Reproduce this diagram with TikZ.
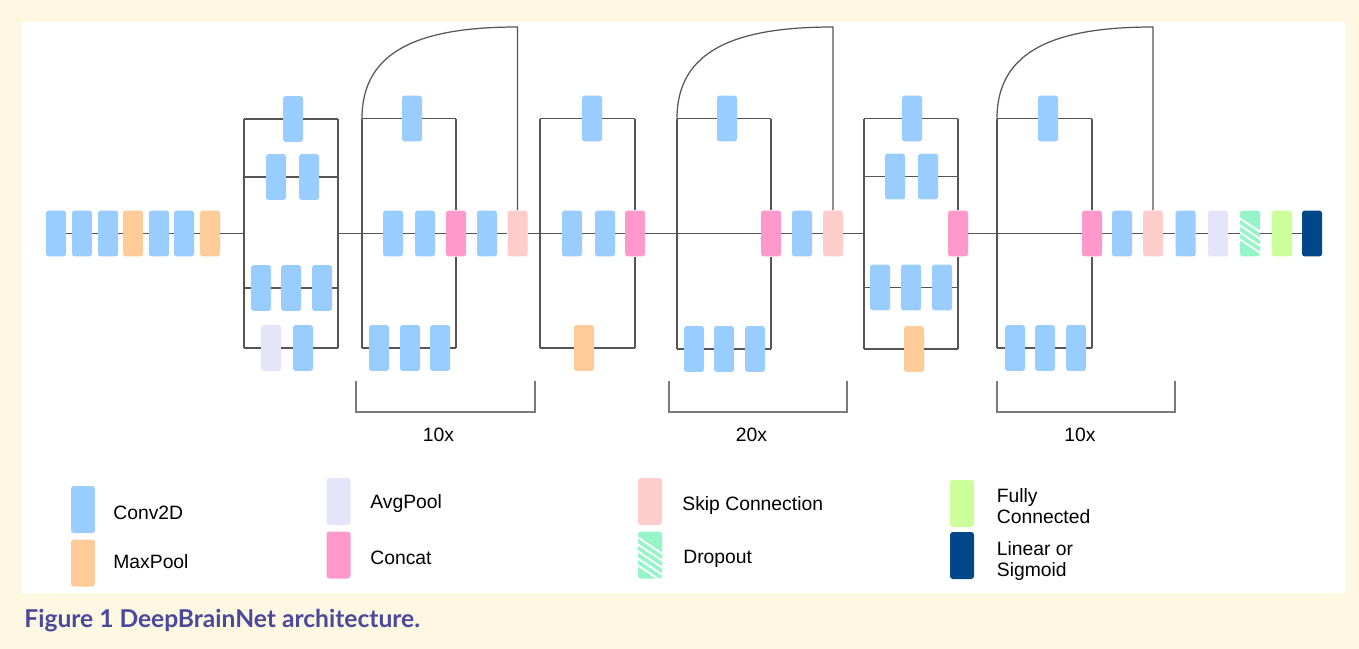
\documentclass[tikz,border=0pt]{standalone}
\usepackage{fontspec}
\setmainfont{Liberation Sans}
\newfontfamily\capfont{Lato}
\usepackage{tikz}
\definecolor{convBlue}{HTML}{99CCFF}
\definecolor{poolOrange}{HTML}{FFCC99}
\definecolor{avgLilac}{HTML}{E5E5FA}
\definecolor{catPink}{HTML}{FF99CC}
\definecolor{skipRose}{HTML}{FFCCCC}
\definecolor{dropMint}{HTML}{96F5C8}
\definecolor{fcGreen}{HTML}{CCFF99}
\definecolor{outNavy}{HTML}{00478A}
\definecolor{wireGray}{HTML}{555555}
\definecolor{braceGray}{HTML}{7A7A7A}
\definecolor{paperCream}{HTML}{FEF7E1}
\definecolor{capBlue}{HTML}{4A4A9C}

\begin{document}
\begin{tikzpicture}[x=0.02cm, y=-0.02cm, font=\fontsize{11}{11.9}\selectfont,
  blk/.style={rounded corners=1.6pt, minimum width=0.4cm, minimum height=0.92cm, inner sep=0pt},
  convbox/.style={blk, fill=convBlue},
  maxbox/.style={blk, fill=poolOrange},
  avgbox/.style={blk, fill=avgLilac},
  catbox/.style={blk, fill=catPink},
  skipbox/.style={blk, fill=skipRose},
  stripes/.style={path picture={\foreach \d in {#1} {\draw[white, line width=1.1pt] (path picture bounding box.north west) ++(-3,\d) -- ++(30,20);}}},
  dropbox/.style={blk, fill=dropMint, stripes={6,13,20,27}},
  fcbox/.style={blk, fill=fcGreen},
  linbox/.style={blk, fill=outNavy},
  keybox/.style={minimum width=0.48cm, minimum height=0.94cm},
  wire/.style={draw=wireGray, line width=0.7pt},
  brace/.style={draw=braceGray, line width=0.8pt},
  lbl/.style={inner sep=0pt, anchor=base west, align=left}]

  % paper and panel
  \fill[paperCream] (0,0) rectangle (1359,649);
  \fill[white] (22,22) rectangle (1345,593);

  % stem
  \foreach \x/\t [count=\i] in {56/convbox,82/convbox,108/convbox,133/maxbox,159/convbox,184/convbox,210/maxbox}
    {\node[\t] (s\i) at (\x,233.5) {};}
  \draw[wire] (s1) -- (s2) -- (s3) -- (s4) -- (s5) -- (s6) -- (s7);

  % inception module, four branches, no concat
  \foreach \y [count=\j] in {119,177,288,348}
    {\coordinate (incA-l\j) at (244,\y); \coordinate (incA-r\j) at (338,\y);}
  \coordinate (incA-in) at (244,233.5);
  \coordinate (incA-out) at (338,233.5);
  \node[convbox] (incA-1a) at (293,119) {};
  \node[convbox] (incA-2a) at (276,177) {};
  \node[convbox] (incA-2b) at (309,177) {};
  \foreach \x [count=\i] in {261,291,322} {\node[convbox] (incA-3\i) at (\x,288) {};}
  \node[avgbox] (incA-4a) at (271,348) {};
  \node[convbox] (incA-4b) at (303,348) {};
  \draw[wire] (incA-l1) -- (incA-l4);
  \draw[wire] (incA-r1) -- (incA-r4);
  \draw[wire] (incA-l1) -- (incA-1a) -- (incA-r1);
  \draw[wire] (incA-l2) -- (incA-2a) -- (incA-2b) -- (incA-r2);
  \draw[wire] (incA-l3) -- (incA-31) -- (incA-32) -- (incA-33) -- (incA-r3);
  \draw[wire] (incA-l4) -- (incA-4a) -- (incA-4b) -- (incA-r4);
  \draw[wire] (s7) -- (incA-in);

  % residual block A (x10)
  \coordinate (resA-l1) at (362,118.5); \coordinate (resA-r1) at (456,118.5);
  \coordinate (resA-l3) at (362,348);   \coordinate (resA-r3) at (456,348);
  \node[convbox] (resA-1a) at (412,118.5) {};
  \node[convbox] (resA-2a) at (393,233.5) {};
  \node[convbox] (resA-2b) at (425,233.5) {};
  \node[catbox] (resA-cat) at (456,233.5) {};
  \foreach \x [count=\i] in {379,410,440} {\node[convbox] (resA-3\i) at (\x,348) {};}
  \node[convbox] (resA-c) at (487,233.5) {};
  \node[skipbox] (resA-sk) at (517.5,233.5) {};
  \coordinate (resA-top) at (517.5,27);
  \draw[wire] (resA-l1) -- (resA-l3);
  \draw[wire] (resA-r1) -- (resA-cat) -- (resA-r3);
  \draw[wire] (resA-l1) -- (resA-1a) -- (resA-r1);
  \draw[wire] (resA-l3) -- (resA-31) -- (resA-32) -- (resA-33) -- (resA-r3);
  \draw[wire] (incA-out) -- (resA-2a) -- (resA-2b) -- (resA-cat) -- (resA-c) -- (resA-sk);
  \draw[wire] (resA-l1) .. controls +(0,-68) and +(-98,0) .. (resA-top) -- (resA-sk);
  \draw[brace] (356,381) -- (356,412) -- (535,412) -- (535,381);
  \node[inner sep=0pt, anchor=base] (resA-n) at (438.5,441) {10x};

  % reduction module A
  \coordinate (redA-l1) at (540,118.5); \coordinate (redA-r1) at (635,118.5);
  \coordinate (redA-l3) at (540,348);   \coordinate (redA-r3) at (635,348);
  \node[convbox] (redA-1a) at (592,118.5) {};
  \node[convbox] (redA-2a) at (572,233.5) {};
  \node[convbox] (redA-2b) at (605,233.5) {};
  \node[catbox] (redA-cat) at (635,233.5) {};
  \node[maxbox] (redA-3a) at (584,348) {};
  \draw[wire] (redA-l1) -- (redA-l3);
  \draw[wire] (redA-r1) -- (redA-cat) -- (redA-r3);
  \draw[wire] (redA-l1) -- (redA-1a) -- (redA-r1);
  \draw[wire] (redA-l3) -- (redA-3a) -- (redA-r3);
  \draw[wire] (resA-sk) -- (redA-2a) -- (redA-2b) -- (redA-cat);

  % residual block B (x20)
  \coordinate (resB-l1) at (677,118.5); \coordinate (resB-r1) at (771,118.5);
  \coordinate (resB-l3) at (677,349);   \coordinate (resB-r3) at (771,349);
  \node[convbox] (resB-1a) at (727,118.5) {};
  \node[catbox] (resB-cat) at (771,233.5) {};
  \foreach \x [count=\i] in {694,724,755} {\node[convbox] (resB-3\i) at (\x,349) {};}
  \node[convbox] (resB-c) at (802,233.5) {};
  \node[skipbox] (resB-sk) at (833,233.5) {};
  \coordinate (resB-top) at (833,27);
  \draw[wire] (resB-l1) -- (resB-l3);
  \draw[wire] (resB-r1) -- (resB-cat) -- (resB-r3);
  \draw[wire] (resB-l1) -- (resB-1a) -- (resB-r1);
  \draw[wire] (resB-l3) -- (resB-31) -- (resB-32) -- (resB-33) -- (resB-r3);
  \draw[wire] (redA-cat) -- (resB-cat) -- (resB-c) -- (resB-sk);
  \draw[wire] (resB-l1) .. controls +(0,-68) and +(-98,0) .. (resB-top) -- (resB-sk);
  \draw[brace] (669,381) -- (669,412) -- (847,412) -- (847,381);
  \node[inner sep=0pt, anchor=base] (resB-n) at (751.5,441) {20x};

  % reduction module B
  \foreach \y [count=\j] in {118.5,176.5,287.5,349}
    {\coordinate (redB-l\j) at (864,\y); \coordinate (redB-r\j) at (958,\y);}
  \coordinate (redB-in) at (864,233.5);
  \node[convbox] (redB-1a) at (912,118.5) {};
  \node[convbox] (redB-2a) at (895,176.5) {};
  \node[convbox] (redB-2b) at (928,176.5) {};
  \foreach \x [count=\i] in {880,911,942} {\node[convbox] (redB-3\i) at (\x,287.5) {};}
  \node[maxbox] (redB-4a) at (914,349) {};
  \node[catbox] (redB-cat) at (958,233.5) {};
  \draw[wire] (redB-l1) -- (redB-l4);
  \draw[wire] (redB-r1) -- (redB-cat) -- (redB-r4);
  \draw[wire] (redB-l1) -- (redB-1a) -- (redB-r1);
  \draw[wire] (redB-l2) -- (redB-2a) -- (redB-2b) -- (redB-r2);
  \draw[wire] (redB-l3) -- (redB-31) -- (redB-32) -- (redB-33) -- (redB-r3);
  \draw[wire] (redB-l4) -- (redB-4a) -- (redB-r4);
  \draw[wire] (resB-sk) -- (redB-in);

  % residual block C (x10)
  \coordinate (resC-l1) at (997,118.5); \coordinate (resC-r1) at (1092,118.5);
  \coordinate (resC-l3) at (997,348);   \coordinate (resC-r3) at (1092,348);
  \node[convbox] (resC-1a) at (1048,118.5) {};
  \node[catbox] (resC-cat) at (1092,233.5) {};
  \foreach \x [count=\i] in {1015,1045,1076} {\node[convbox] (resC-3\i) at (\x,348) {};}
  \node[convbox] (resC-c) at (1122,233.5) {};
  \node[skipbox] (resC-sk) at (1153,233.5) {};
  \coordinate (resC-top) at (1153,27);
  \draw[wire] (resC-l1) -- (resC-l3);
  \draw[wire] (resC-r1) -- (resC-cat) -- (resC-r3);
  \draw[wire] (resC-l1) -- (resC-1a) -- (resC-r1);
  \draw[wire] (resC-l3) -- (resC-31) -- (resC-32) -- (resC-33) -- (resC-r3);
  \draw[wire] (redB-cat) -- (resC-cat) -- (resC-c) -- (resC-sk);
  \draw[wire] (resC-l1) .. controls +(0,-68) and +(-98,0) .. (resC-top) -- (resC-sk);
  \draw[brace] (997,381) -- (997,412) -- (1175,412) -- (1175,381);
  \node[inner sep=0pt, anchor=base] (resC-n) at (1080,441) {10x};

  % head
  \foreach \x/\t [count=\i] in {1185.5/convbox,1218/avgbox,1250/dropbox,1282/fcbox,1312/linbox}
    {\node[\t] (h\i) at (\x,233.5) {};}
  \draw[wire] (resC-sk) -- (h1) -- (h2) -- (h3) -- (h4) -- (h5);

  % legend
  \node[convbox, keybox] (k1) at (83,509.5) {};
  \node[lbl] (k1t) at (113,519.5) {Conv2D};
  \node[maxbox, keybox] (k2) at (83,563) {};
  \node[lbl] (k2t) at (113,568.5) {MaxPool};
  \node[avgbox, keybox] (k3) at (338.5,501.5) {};
  \node[lbl] (k3t) at (370,508.5) {AvgPool};
  \node[catbox, keybox] (k4) at (338.5,555) {};
  \node[lbl] (k4t) at (370,564) {Concat};
  \node[skipbox, keybox] (k5) at (650,501.5) {};
  \node[lbl] (k5t) at (682,510) {Skip Connection};
  \node[dropbox, keybox, stripes={4,11,18,25,32}] (k6) at (650,555) {};
  \node[lbl] (k6t) at (683,563.5) {Dropout};
  \node[fcbox, keybox] (k7) at (962,503.5) {};
  \node[lbl] (k7t) at (996.5,523) {Fully\\Connected};
  \node[linbox, keybox] (k8) at (962,555.5) {};
  \node[lbl] (k8t) at (996.5,576) {Linear or\\Sigmoid};

  % caption
  \node[inner sep=0pt, anchor=base west, text=capBlue, font=\capfont\bfseries\fontsize{14}{16}\selectfont] (cap) at (24,627) {Figure 1 DeepBrainNet architecture.};
\end{tikzpicture}
\end{document}
